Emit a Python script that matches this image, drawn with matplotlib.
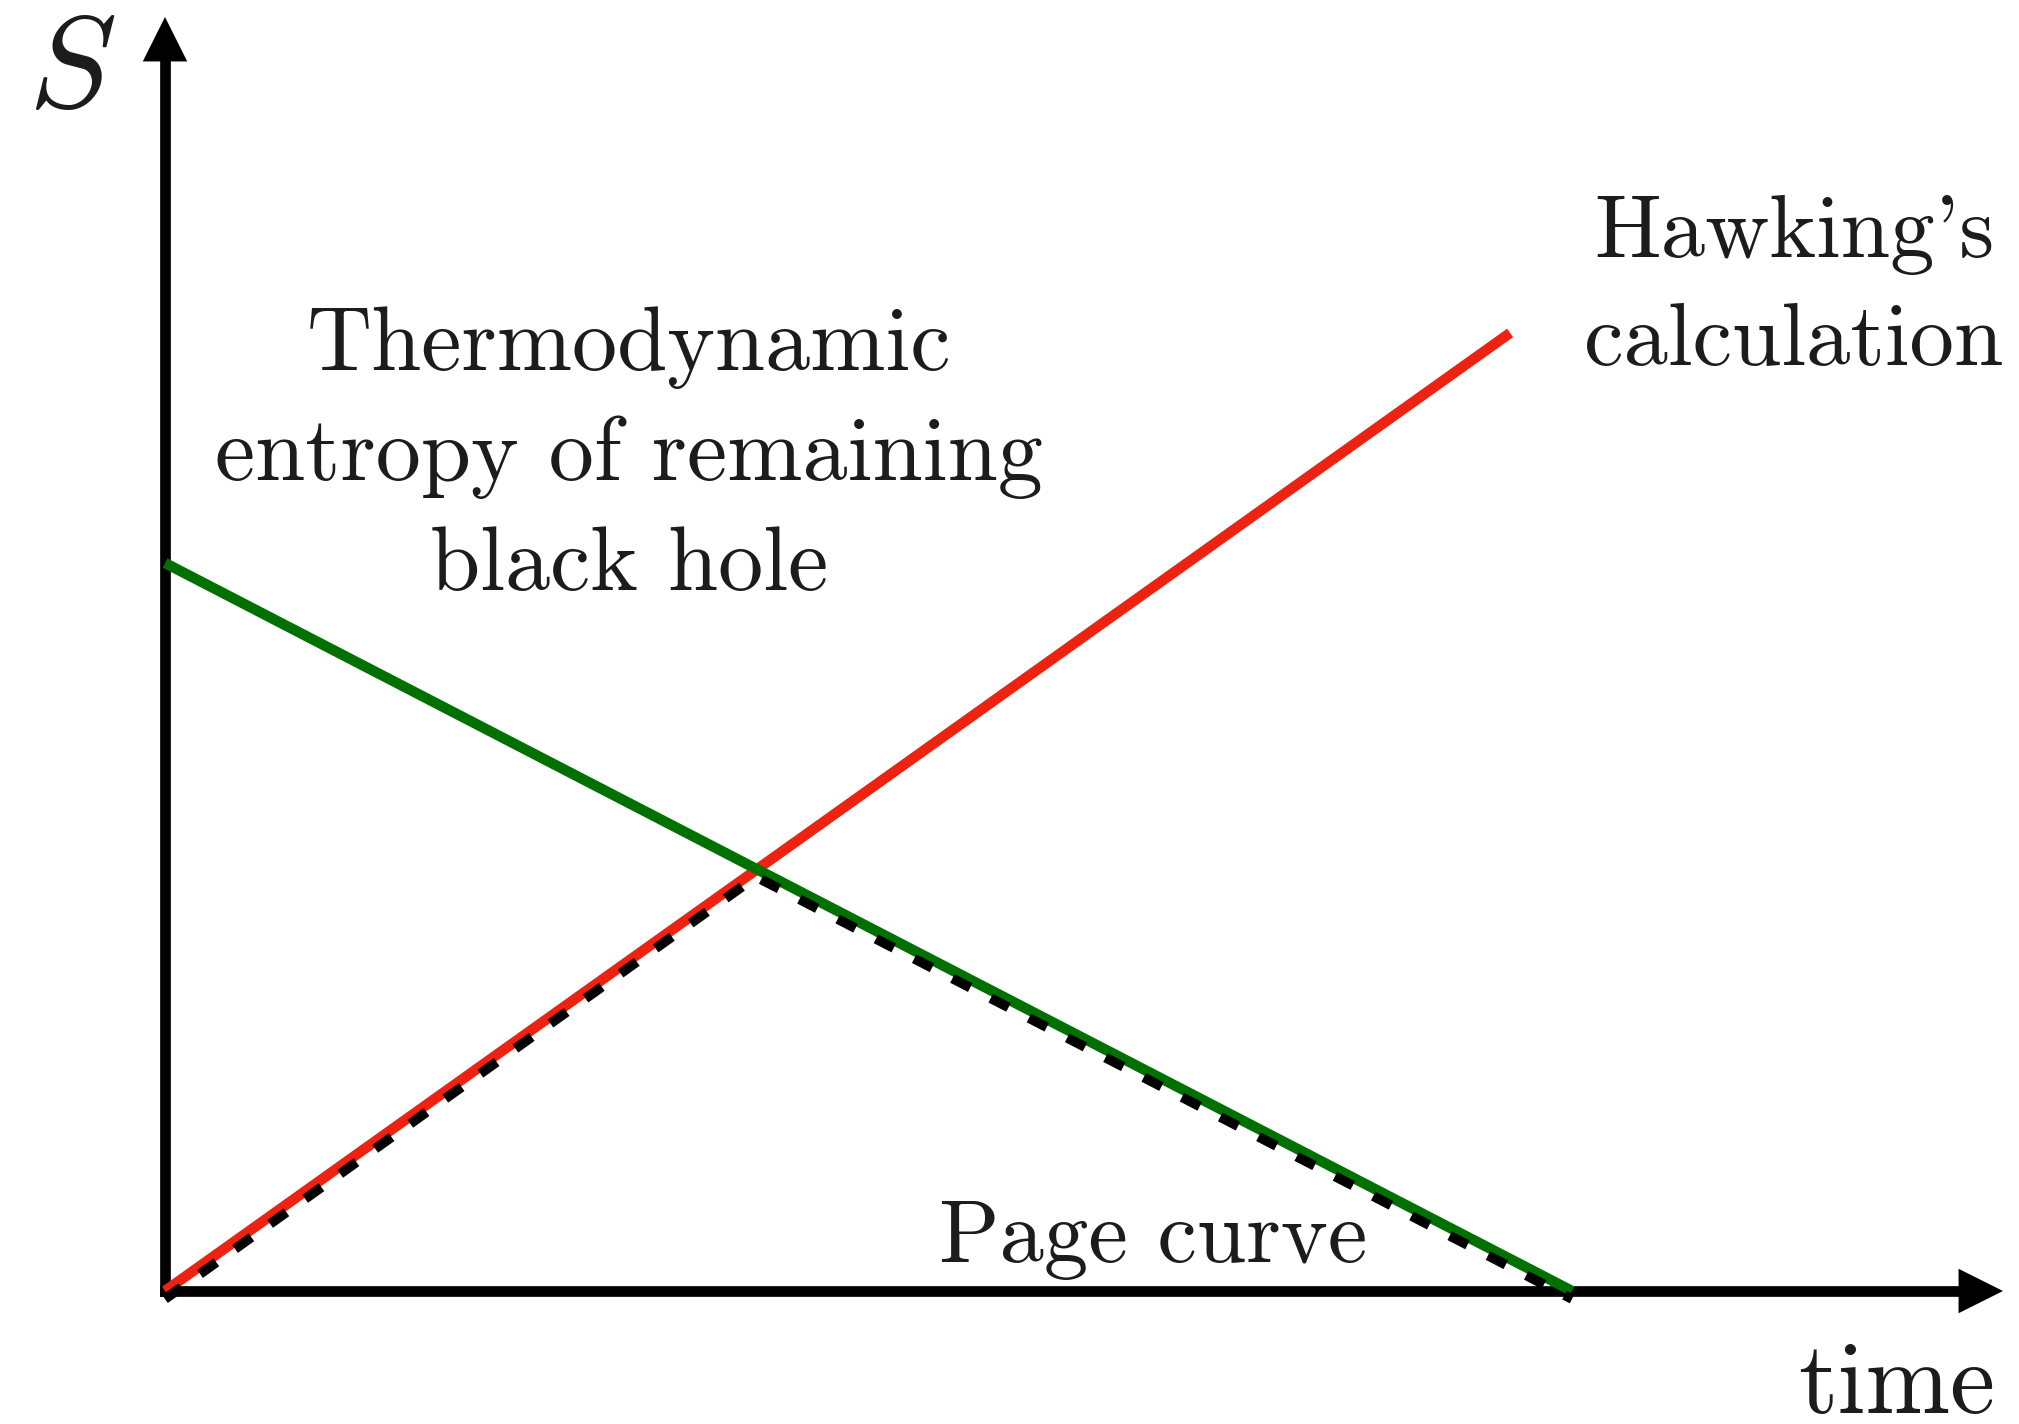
import matplotlib
matplotlib.use("Agg")
import matplotlib.pyplot as plt
from matplotlib import transforms

plt.rcParams["mathtext.fontset"] = "cm"

# ------------------------- Data -------------------------
# time in units of the evaporation time, S in units of the initial BH entropy
t_hawking = [0.0, 0.956]
S_hawking = [0.0, 1.316]

t_thermo = [0.0, 1.0]
S_thermo = [1.0, 0.0]

t_page = [0.0, 0.42, 1.0]
S_page = [0.0, 0.58, 0.0]

thermo_lines = ["Thermodynamic", "entropy of remaining", "black hole"]
hawking_lines = ["Hawking's", "calculation"]
page_label = "Page curve"

# ------------------------- Figure -------------------------
W, H = 2019, 1424
X0, Y0 = 165, 1291          # pixel position of the origin
SX, SY = 1407, 728          # pixels per data unit


def t_of(px):
    return (px - X0) / SX


def s_of(py):
    return (Y0 - py) / SY


fig = plt.figure(figsize=(W / 100, H / 100), dpi=100)
ax = fig.add_axes([0, 0, 1, 1])
ax.set_xlim(t_of(0), t_of(W))
ax.set_ylim(s_of(H), s_of(0))
ax.axis("off")

# axes with arrow heads
t_tip, s_tip = t_of(2003), s_of(17)
ax.plot([0, t_of(1960)], [0, 0], color="k", lw=7.7, solid_capstyle="projecting", zorder=1)
ax.plot([0, 0], [0, s_of(58)], color="k", lw=7.7, solid_capstyle="projecting", zorder=1)
head = dict(arrowstyle="-|>,head_length=32,head_width=16", mutation_scale=1,
            lw=0, fc="k", ec="k", shrinkA=0, shrinkB=0)
ax.annotate("", xy=(t_tip, 0), xytext=(0, 0), arrowprops=head, zorder=1)
ax.annotate("", xy=(0, s_tip), xytext=(0, 0), arrowprops=head, zorder=1)

# curves
ax.plot(t_hawking, S_hawking, color="#EE2210", lw=7.5, solid_capstyle="butt", zorder=2)
ax.plot(t_thermo, S_thermo, color="#007000", lw=7.5, solid_capstyle="butt", zorder=2)
shift = transforms.offset_copy(ax.transData, fig=fig, x=0, y=-8, units="dots")
page, = ax.plot(t_page, S_page, color="k", lw=7, transform=shift,
                dash_capstyle="butt", zorder=3)
page.set_dashes((2.06, 2.37))

# labels
txt = dict(fontfamily="cmr10", color="#1c1c1c")
for i, line in enumerate(thermo_lines):
    ax.text(t_of(629), s_of(370 + 110 * i), line, ha="center", va="baseline",
            fontsize=65, **txt)
for i, line in enumerate(hawking_lines):
    ax.text(t_of(1794), s_of(257 + 108 * i), line, ha="center", va="baseline",
            fontsize=64, **txt)
ax.text(t_of(1153), s_of(1262), page_label, ha="center", va="baseline", fontsize=64, **txt)
ax.text(t_of(1897), s_of(1413), "time", ha="center", va="baseline", fontsize=73, **txt)
ax.text(t_of(72), s_of(71), "$S$", ha="center", va="center", fontsize=95, color="#1c1c1c")

fig.savefig("out.png", dpi=100)
